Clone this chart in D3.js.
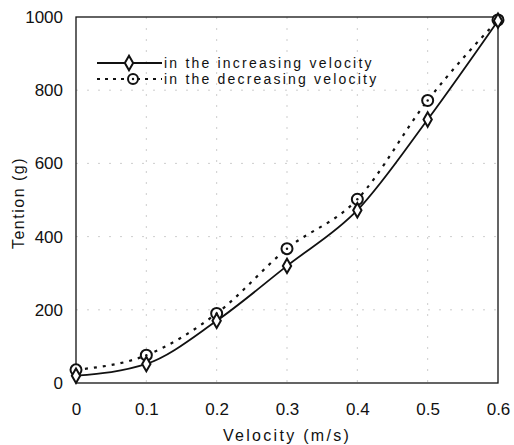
<!DOCTYPE html>
<html>
<head>
<meta charset="utf-8">
<script src="https://cdn.jsdelivr.net/npm/d3@7"></script>
<style>
  body { margin: 0; background: #fff; }
  text { font-family: "Liberation Sans", Arial, sans-serif; fill: #111; }
</style>
</head>
<body>
<div id="chart"></div>
<script>
// Data
const velocity = [0, 0.1, 0.2, 0.3, 0.4, 0.5, 0.6];
const increasing = [20, 52, 170, 320, 472, 720, 990];
const decreasing = [36, 76, 190, 367, 502, 772, 992];
const xTicks = [0, 0.1, 0.2, 0.3, 0.4, 0.5, 0.6];
const yTicks = [0, 200, 400, 600, 800, 1000];
const seriesNames = ["in the increasing velocity", "in the decreasing velocity"];

const width = 514, height = 445;
const margin = { left: 76, right: 16, top: 17, bottom: 62 };

const svg = d3.select("#chart").append("svg")
    .attr("width", width)
    .attr("height", height);

const x = d3.scaleLinear().domain([0, 0.6]).range([margin.left, width - margin.right]);
const y = d3.scaleLinear().domain([0, 1000]).range([height - margin.bottom, margin.top]);

// faint grid (scan-like)
const grid = svg.append("g").attr("stroke", "#999").attr("stroke-width", 0.8)
    .attr("stroke-dasharray", "2,9").attr("opacity", 0.6);
grid.selectAll("line.gx")
    .data(xTicks.slice(1, -1))
    .join("line")
    .attr("class", "gx")
    .attr("x1", d => x(d)).attr("x2", d => x(d))
    .attr("y1", y(1000)).attr("y2", y(0));
grid.selectAll("line.gy")
    .data(yTicks.slice(1, -1))
    .join("line")
    .attr("class", "gy")
    .attr("x1", x(0)).attr("x2", x(0.6))
    .attr("y1", d => y(d)).attr("y2", d => y(d));

// frame
svg.append("rect")
    .attr("x", x(0)).attr("y", y(1000))
    .attr("width", x(0.6) - x(0)).attr("height", y(0) - y(1000))
    .attr("fill", "none").attr("stroke", "#111").attr("stroke-width", 1.3);

// axes (labels only)
const xAxis = svg.append("g")
    .attr("transform", `translate(0,${y(0)})`)
    .call(d3.axisBottom(x).tickValues(xTicks).tickSize(0).tickPadding(20)
        .tickFormat(d => d === 0 ? "0" : d3.format(".1f")(d)));
xAxis.select(".domain").remove();
xAxis.selectAll("text").style("font-size", "17px").attr("fill", "#111");

const yAxis = svg.append("g")
    .attr("transform", `translate(${x(0)},0)`)
    .call(d3.axisLeft(y).tickValues(yTicks).tickSize(0).tickPadding(13).tickFormat(d3.format("d")));
yAxis.select(".domain").remove();
yAxis.selectAll("text").style("font-size", "17px").attr("fill", "#111");

// axis titles
svg.append("text")
    .attr("x", (x(0) + x(0.6)) / 2)
    .attr("y", 441)
    .attr("text-anchor", "middle")
    .style("font-size", "16px")
    .style("letter-spacing", "2.3px")
    .text("Velocity (m/s)");

svg.append("text")
    .attr("transform", `translate(24,${(y(0) + y(1000)) / 2 + 3}) rotate(-90)`)
    .attr("text-anchor", "middle")
    .style("font-size", "16px")
    .style("letter-spacing", "1.5px")
    .text("Tention (g)");

// lines
const line = d3.line().x(d => x(d[0])).y(d => y(d[1])).curve(d3.curveMonotoneX);
const incData = velocity.map((v, i) => [v, increasing[i]]);
const decData = velocity.map((v, i) => [v, decreasing[i]]);

svg.append("path")
    .datum(decData)
    .attr("d", line)
    .attr("fill", "none")
    .attr("stroke", "#111")
    .attr("stroke-width", 2.2)
    .attr("stroke-dasharray", "3,6");

svg.append("path")
    .datum(incData)
    .attr("d", line)
    .attr("fill", "none")
    .attr("stroke", "#111")
    .attr("stroke-width", 1.8);

const diamond = d3.symbol().type(d3.symbolDiamond).size(60);

svg.selectAll("circle.dec")
    .data(decData)
    .join("circle")
    .attr("class", "dec")
    .attr("cx", d => x(d[0])).attr("cy", d => y(d[1]))
    .attr("r", 5.5)
    .attr("fill", "#fff").attr("stroke", "#111").attr("stroke-width", 2);
svg.selectAll("circle.decdot")
    .data(decData)
    .join("circle")
    .attr("class", "decdot")
    .attr("cx", d => x(d[0])).attr("cy", d => y(d[1]))
    .attr("r", 1.2).attr("fill", "#111");

svg.selectAll("path.inc")
    .data(incData)
    .join("path")
    .attr("class", "inc")
    .attr("transform", d => `translate(${x(d[0])},${y(d[1])})`)
    .attr("d", diamond)
    .attr("fill", "#fff").attr("stroke", "#111").attr("stroke-width", 2);

// legend
const lg = svg.append("g").attr("transform", "translate(97,63)");
lg.append("line").attr("x1", 0).attr("x2", 65).attr("y1", 0).attr("y2", 0)
    .attr("stroke", "#111").attr("stroke-width", 1.8);
lg.append("path").attr("transform", "translate(32,0)").attr("d", diamond)
    .attr("fill", "#fff").attr("stroke", "#111").attr("stroke-width", 2);
lg.append("line").attr("x1", 0).attr("x2", 65).attr("y1", 16).attr("y2", 16)
    .attr("stroke", "#111").attr("stroke-width", 2).attr("stroke-dasharray", "3,5");
lg.append("circle").attr("cx", 36).attr("cy", 16).attr("r", 5)
    .attr("fill", "#fff").attr("stroke", "#111").attr("stroke-width", 2);
lg.append("circle").attr("cx", 36).attr("cy", 16).attr("r", 1.2).attr("fill", "#111");
lg.selectAll("text.lgt")
    .data(seriesNames)
    .join("text")
    .attr("class", "lgt")
    .attr("x", 67)
    .attr("y", (d, i) => i * 16 + 5)
    .style("font-size", "14px")
    .style("letter-spacing", "2.2px")
    .text(d => d);
</script>
</body>
</html>
